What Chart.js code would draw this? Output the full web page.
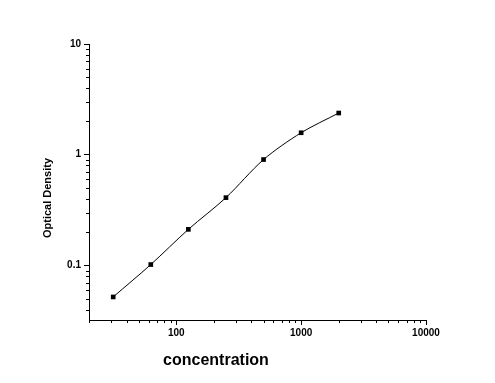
<!DOCTYPE html>
<html><head><meta charset="utf-8">
<script src="https://cdn.jsdelivr.net/npm/chart.js@4"></script>
<style>html,body{margin:0;padding:0;background:#fff}canvas{display:block}</style>
</head><body>
<div style="width:495px;height:383px"><canvas id="c" width="495" height="383"></canvas></div>
<script>
const concentrations = [31.25, 62.5, 125, 250, 500, 1000, 2000];
const opticalDensity = [0.052, 0.102, 0.212, 0.41, 0.905, 1.58, 2.38];
const xTickLabels = [100, 1000, 10000];
const yTickLabels = [0.1, 1, 10];
const xMinorTicks = [20,30,40,50,60,70,80,90,200,300,400,500,600,700,800,900,2000,3000,4000,5000,6000,7000,8000,9000];
const yMinorTicks = [0.04,0.05,0.06,0.07,0.08,0.09,0.2,0.3,0.4,0.5,0.6,0.7,0.8,0.9,2,3,4,5,6,7,8,9];
const xTitle = 'concentration';
const yTitle = 'Optical Density';

const tickFont = {family: '"Liberation Sans", Arial, sans-serif', size: 10, weight: 'bold'};

const extras = {
  id: 'extras',
  afterDraw(chart) {
    const ctx = chart.ctx, xs = chart.scales.x, ys = chart.scales.y;
    const a = chart.chartArea;
    ctx.save();
    ctx.strokeStyle = '#000';
    ctx.lineWidth = 1;
    ctx.beginPath();
    xMinorTicks.forEach(v => {
      const px = Math.round(xs.getPixelForValue(v)) + 0.5;
      ctx.moveTo(px, a.bottom); ctx.lineTo(px, a.bottom + 3);
    });
    yMinorTicks.forEach(v => {
      const py = Math.round(ys.getPixelForValue(v)) + 0.5;
      ctx.moveTo(a.left, py); ctx.lineTo(a.left - 3, py);
    });
    ctx.stroke();
    ctx.fillStyle = '#000';
    ctx.font = 'bold 16px "Liberation Sans", Arial, sans-serif';
    ctx.textAlign = 'center';
    ctx.textBaseline = 'alphabetic';
    ctx.fillText(xTitle, 216, 365);
    ctx.translate(51, 198);
    ctx.rotate(-Math.PI / 2);
    ctx.font = 'bold 11px "Liberation Sans", Arial, sans-serif';
    ctx.fillText(yTitle, 0, 0);
    ctx.restore();
  }
};

new Chart(document.getElementById('c'), {
  type: 'line',
  data: {
    datasets: [{
      data: concentrations.map((x, i) => ({x: x, y: opticalDensity[i]})),
      borderColor: '#000',
      borderWidth: 1,
      backgroundColor: '#000',
      pointStyle: 'rect',
      pointRadius: 3.3,
      pointBorderWidth: 0,
      tension: 0.3,
      clip: false
    }]
  },
  options: {
    responsive: false,
    devicePixelRatio: 1,
    animation: false,
    layout: {padding: {left: 0, right: 69, top: 44, bottom: 33}},
    plugins: {legend: {display: false}, tooltip: {enabled: false}},
    scales: {
      x: {
        type: 'logarithmic', min: 20, max: 10000,
        afterBuildTicks: s => { s.ticks = xTickLabels.map(v => ({value: v})); },
        afterFit: s => { s.height = 30; },
        ticks: {callback: v => String(v), font: tickFont, color: '#000', padding: 2, maxRotation: 0, autoSkip: false},
        grid: {drawOnChartArea: false, tickLength: 5, tickColor: '#000', color: '#000'},
        border: {color: '#000', width: 1}
      },
      y: {
        type: 'logarithmic', min: 0.0322, max: 10,
        afterBuildTicks: s => { s.ticks = yTickLabels.map(v => ({value: v})); },
        afterFit: s => { s.width = 89; },
        ticks: {callback: v => String(v), font: tickFont, color: '#000', padding: 3, autoSkip: false},
        grid: {drawOnChartArea: false, tickLength: 5, tickColor: '#000', color: '#000'},
        border: {color: '#000', width: 1}
      }
    }
  },
  plugins: [extras]
});
</script>
</body></html>
